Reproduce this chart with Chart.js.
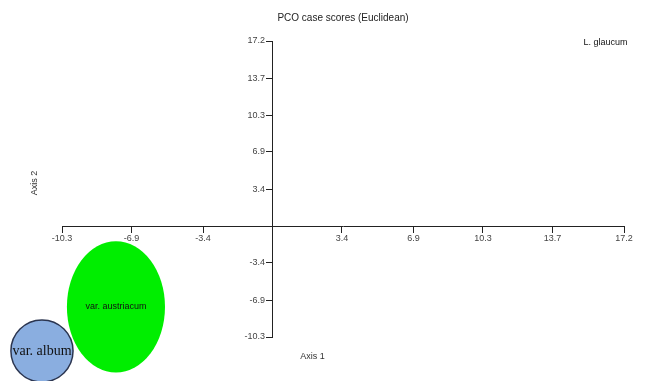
<!DOCTYPE html>
<html>
<head>
<meta charset="utf-8">
<script src="https://cdn.jsdelivr.net/npm/chart.js@4"></script>
<style>
  html, body { margin: 0; padding: 0; background: #fff; }
  #wrap { width: 664px; height: 381px; }
</style>
</head>
<body>
<div id="wrap"><canvas id="pco"></canvas></div>
<script>
// scores dos grupos (centro) e dispersao em cada eixo
const groups = ["var. austriacum", "var. album", "L. glaucum"];
const axis1 = [-7.66, -11.28, 16.3];
const axis2 = [-7.5, -11.6, 17.1];
const spread1 = [2.4, 1.52, 0];
const spread2 = [6.1, 2.88, 0];
const ticksX = [-10.3, -6.9, -3.4, 3.4, 6.9, 10.3, 13.7, 17.2];
const ticksY = [-10.3, -6.9, -3.4, 3.4, 6.9, 10.3, 13.7, 17.2];

const fills = ["#00ee00", "#8aaee0", null];
const strokes = [null, "#2b3550", null];
const labelFonts = ["9px 'Liberation Sans'", "14px 'Liberation Serif'", "9px 'Liberation Sans'"];

// desenha as elipses dos grupos e os titulos dos eixos
const ellipses = {
  id: "ellipses",
  afterDatasetsDraw(chart) {
    const { ctx, chartArea, scales: { x, y } } = chart;
    ctx.save();
    groups.forEach((g, i) => {
      const cx = x.getPixelForValue(axis1[i]);
      const cy = y.getPixelForValue(axis2[i]);
      const rx = Math.abs(x.getPixelForValue(axis1[i] + spread1[i]) - cx);
      const ry = Math.abs(y.getPixelForValue(axis2[i] + spread2[i]) - cy);
      if (rx > 0 && ry > 0) {
        ctx.beginPath();
        ctx.ellipse(cx, cy, rx, ry, 0, 0, Math.PI * 2);
        ctx.fillStyle = fills[i];
        ctx.fill();
        if (strokes[i]) {
          ctx.lineWidth = 1.5;
          ctx.strokeStyle = strokes[i];
          ctx.stroke();
        }
      }
      ctx.fillStyle = "#111";
      ctx.font = labelFonts[i];
      ctx.textAlign = "center";
      ctx.textBaseline = "middle";
      ctx.fillText(g, cx, cy);
    });
    ctx.font = "9px 'Liberation Sans'";
    ctx.fillStyle = "#333";
    ctx.fillText("Axis 1", x.getPixelForValue(0) + 40, chartArea.bottom + 20);
    ctx.translate(chartArea.left - 27, y.getPixelForValue(4));
    ctx.rotate(-Math.PI / 2);
    ctx.fillText("Axis 2", 0, 0);
    ctx.restore();
  }
};

const tickFont = { family: "'Liberation Sans'", size: 9 };

new Chart(document.getElementById("pco"), {
  type: "scatter",
  data: {
    datasets: [{
      label: "PCO",
      data: groups.map((g, i) => ({ x: axis1[i], y: axis2[i] })),
      pointRadius: 0,
      clip: false
    }]
  },
  options: {
    responsive: true,
    maintainAspectRatio: false,
    animation: false,
    layout: { padding: { left: 62, right: 40, top: 0, bottom: 44 } },
    plugins: {
      legend: { display: false },
      tooltip: { enabled: false },
      title: {
        display: true,
        text: "PCO case scores (Euclidean)",
        color: "#222",
        font: { family: "'Liberation Sans'", size: 10, weight: "normal" },
        padding: { top: 12, bottom: 17 }
      }
    },
    scales: {
      x: {
        type: "linear",
        min: -10.3,
        max: 17.2,
        position: { y: 0 },
        afterBuildTicks: s => { s.ticks = ticksX.map(v => ({ value: v })); },
        afterFit: s => { s.height = 0; },
        grid: { drawOnChartArea: false, drawTicks: true, tickLength: 6, color: "#222" },
        border: { display: true, color: "#222", width: 1 },
        ticks: { font: tickFont, color: "#444", padding: 1, autoSkip: false, maxRotation: 0, callback: v => String(v) }
      },
      y: {
        type: "linear",
        min: -10.3,
        max: 17.2,
        position: { x: 0 },
        afterBuildTicks: s => { s.ticks = ticksY.map(v => ({ value: v })); },
        afterFit: s => { s.width = 0; },
        grid: { drawOnChartArea: false, drawTicks: true, tickLength: 6, color: "#222" },
        border: { display: true, color: "#222", width: 1 },
        // com posicao central o padding nao afasta o texto, entao uso espacos
        ticks: { font: tickFont, color: "#444", autoSkip: false, callback: v => String(v) + "   " }
      }
    }
  },
  plugins: [ellipses]
});
</script>
</body>
</html>
